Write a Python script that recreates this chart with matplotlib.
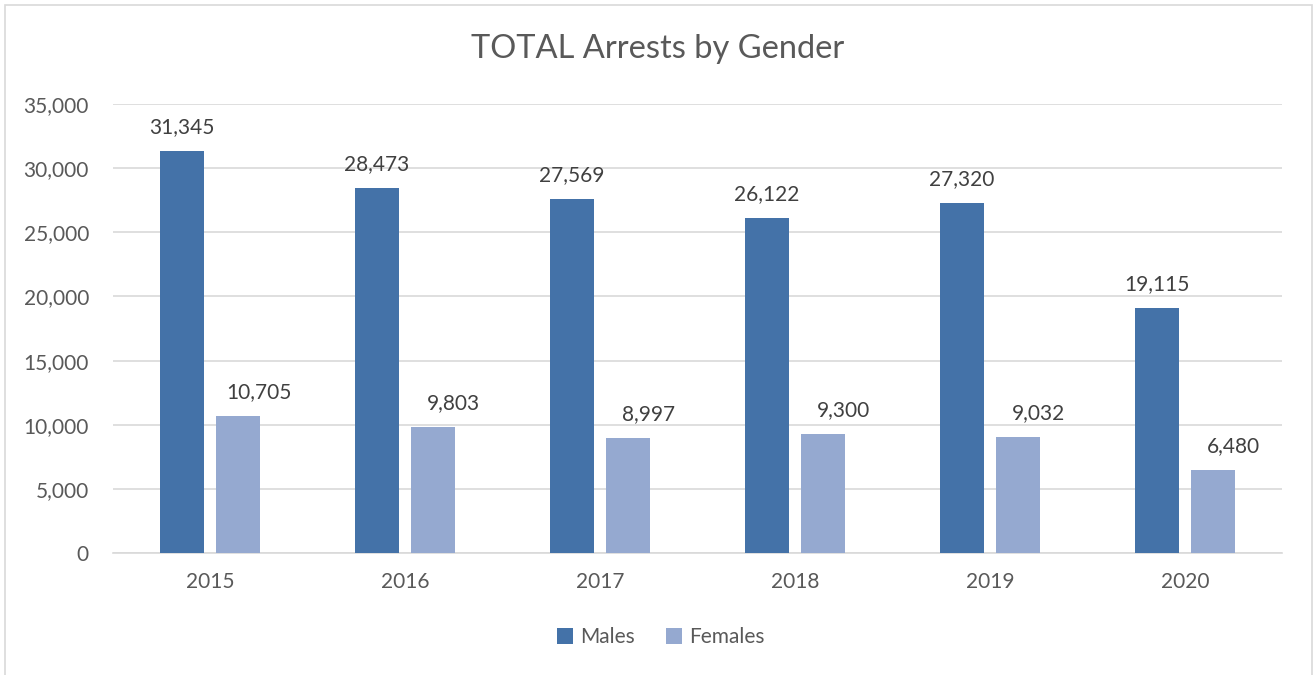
import matplotlib.pyplot as plt
import numpy as np
from matplotlib.patches import Rectangle
from matplotlib.ticker import FuncFormatter

years = ['2015', '2016', '2017', '2018', '2019', '2020']
males = [31345, 28473, 27569, 26122, 27320, 19115]
females = [10705, 9803, 8997, 9300, 9032, 6480]

plt.rcParams['font.family'] = ['Lato', 'DejaVu Sans']
txt = '#595959'

fig = plt.figure(figsize=(13.16, 6.75), dpi=100)
ax = fig.add_axes([0.0855, 0.1807, 0.889, 0.6652])

# chart border
fig.patches.append(Rectangle((5 / 1316, -0.05), 1307 / 1316, 1.05 - 5 / 675,
                             transform=fig.transFigure, fill=False,
                             edgecolor='#d9d9d9', lw=1.2))

x = np.arange(len(years))
w = 0.226
b1 = ax.bar(x - 0.144, males, w, color='#4472a8', label='Males', zorder=3)
b2 = ax.bar(x + 0.144, females, w, color='#95a9d0', label='Females', zorder=3)

# female labels sit a bit to the right of their bars in the original
for bars, dx in ((b1, 0), (b2, 15)):
    for r in bars:
        ax.annotate(f'{int(r.get_height()):,}', (r.get_x() + r.get_width() / 2, r.get_height()),
                    xytext=(dx, 10), textcoords='offset points', ha='center', va='bottom',
                    fontsize=15, color='#404040')

ax.set_xlim(-0.5, len(years) - 0.5)
ax.set_ylim(0, 35000)
ax.set_yticks(range(0, 35001, 5000))
ax.yaxis.set_major_formatter(FuncFormatter(lambda v, p: f'{int(v):,}'))
ax.set_xticks(x)
ax.set_xticklabels(years)
ax.tick_params(length=0, labelsize=15, colors=txt)
ax.tick_params(axis='x', pad=14)
ax.tick_params(axis='y', pad=17)
ax.grid(axis='y', color='#d9d9d9', lw=1.2, zorder=0)
for s in ['top', 'right', 'left']:
    ax.spines[s].set_visible(False)
ax.spines['bottom'].set_color('#d9d9d9')
ax.spines['bottom'].set_linewidth(1.2)

fig.text(0.5, 0.928, 'TOTAL Arrests by Gender', ha='center', va='center',
         fontsize=23.5, color=txt)

fig.legend(loc='center', bbox_to_anchor=(0.502, 0.056), ncol=2, frameon=False,
           fontsize=15, handlelength=0.75, handleheight=0.75, handletextpad=0.35,
           columnspacing=1.5, labelcolor=txt)

fig.savefig('out.png', dpi=100)
